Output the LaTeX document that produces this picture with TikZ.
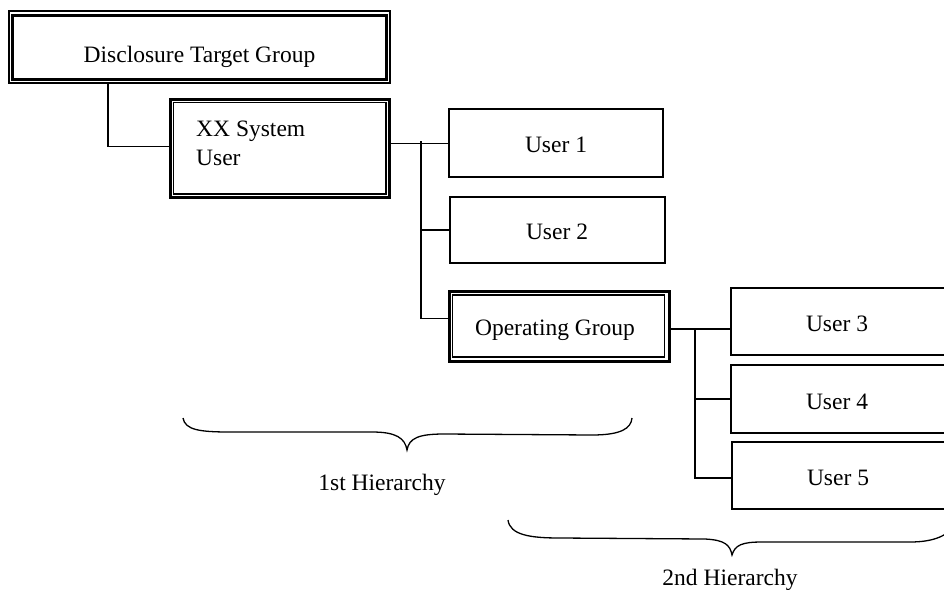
\documentclass[tikz,border=0pt]{standalone}
\usepackage{fontspec}
\setmainfont{Liberation Serif}
\begin{document}
\begin{tikzpicture}[x=1pt,y=-1pt,line join=miter,
  lbl/.style={font=\fontsize{23.5}{29}\selectfont, inner sep=0pt, anchor=base},
  ubox/.style={draw, line width=1.6pt, rectangle, inner sep=0pt},
  thickbox/.style={draw, line width=3pt, rectangle, inner sep=0pt},
  thinbox/.style={draw, line width=1.1pt, rectangle, inner sep=0pt},
  conn/.style={line width=1.4pt},
  bracestyle/.style={line width=1.3pt}]
\useasboundingbox (0,0) rectangle (944,589);
\clip (0,0) rectangle (944,589);

% Disclosure Target Group (thin outer, thick inner)
\node[thinbox, minimum width=381pt, minimum height=72pt] (dtg) at (199.5,47) {};
\draw[line width=3pt] ([shift={(4.5pt,-5pt)}]dtg.north west) rectangle ([shift={(-4pt,4pt)}]dtg.south east);
\node[lbl] (dtgt) at (199.5,62) {Disclosure Target Group};

% XX System User (thick outer, thin inner)
\node[thickbox, minimum width=219.5pt, minimum height=98.5pt] (xx) at (279.75,148.25) {};
\draw[line width=1.1pt] ([shift={(5pt,-5pt)}]xx.north west) rectangle ([shift={(-5pt,5pt)}]xx.south east);
\node[lbl, anchor=base west] (xxt1) at (196,136) {XX System};
\node[lbl, anchor=base west] (xxt2) at (196,165) {User};

% User 1, User 2
\node[ubox, minimum width=214pt, minimum height=68pt] (u1) at (556,143) {};
\node[lbl] (u1t) at (556,152) {User 1};
\node[ubox, minimum width=215pt, minimum height=66pt] (u2) at (557.5,230) {};
\node[lbl] (u2t) at (557,239) {User 2};

% Operating Group (thick outer, thin inner)
\node[thickbox, minimum width=220pt, minimum height=70pt] (og) at (559,326.5) {};
\draw[line width=1.1pt] ([shift={(5pt,-5pt)}]og.north west) rectangle ([shift={(-6pt,6pt)}]og.south east);
\node[lbl] (ogt) at (555,335) {Operating Group};

% User 3, 4, 5 (cut by right edge)
\node[ubox, minimum width=220pt, minimum height=67pt] (u3) at (841,321.5) {};
\node[lbl] (u3t) at (837,331) {User 3};
\node[ubox, minimum width=220pt, minimum height=68pt] (u4) at (841,399) {};
\node[lbl] (u4t) at (837,409) {User 4};
\node[ubox, minimum width=218pt, minimum height=67pt] (u5) at (841,475.5) {};
\node[lbl] (u5t) at (838,485) {User 5};

% connectors
\coordinate (j0) at (108,0);
\coordinate (j1) at (421,0);
\coordinate (j2) at (695,0);
\draw[conn] (j0 |- dtg.south) |- ([yshift=2pt]xx.west);
\draw[conn] ([yshift=5pt]xx.east) -- ([yshift=5pt]xx.east -| u1.west);
\draw[conn] ([yshift=7pt]j1 |- xx.east) |- ([yshift=8pt]og.west);
\draw[conn] (j1 |- u2.west) -- (u2.west);
\draw[conn] ([yshift=-2.5pt]og.east) -- ([yshift=-2.5pt]og.east -| u3.west);
\draw[conn] ([yshift=-2.5pt]j2 |- og.east) |- ([yshift=-2.5pt]u5.west);
\draw[conn] (j2 |- u4.west) -- (u4.west);

% braces
\draw[bracestyle] (183,418) .. controls (185,430) and (200,432) .. (230,432)
  -- (372,432) .. controls (396,432) and (405,438) .. (407,450)
  .. controls (409,438) and (419,434) .. (444,434)
  -- (592,435) .. controls (622,435) and (631,428) .. (632,418);
\node[lbl] (h1) at (382,490) {1st Hierarchy};

\draw[bracestyle] (508,520) .. controls (510,535) and (530,538) .. (560,538)
  -- (705,539) .. controls (725,540) and (730,545) .. (732,555)
  .. controls (735,545) and (742,542) .. (762,542)
  -- (910,542) .. controls (935,542) and (948,535) .. (955,525);
\node[lbl] (h2) at (730,585.5) {2nd Hierarchy};
\end{tikzpicture}
\end{document}
